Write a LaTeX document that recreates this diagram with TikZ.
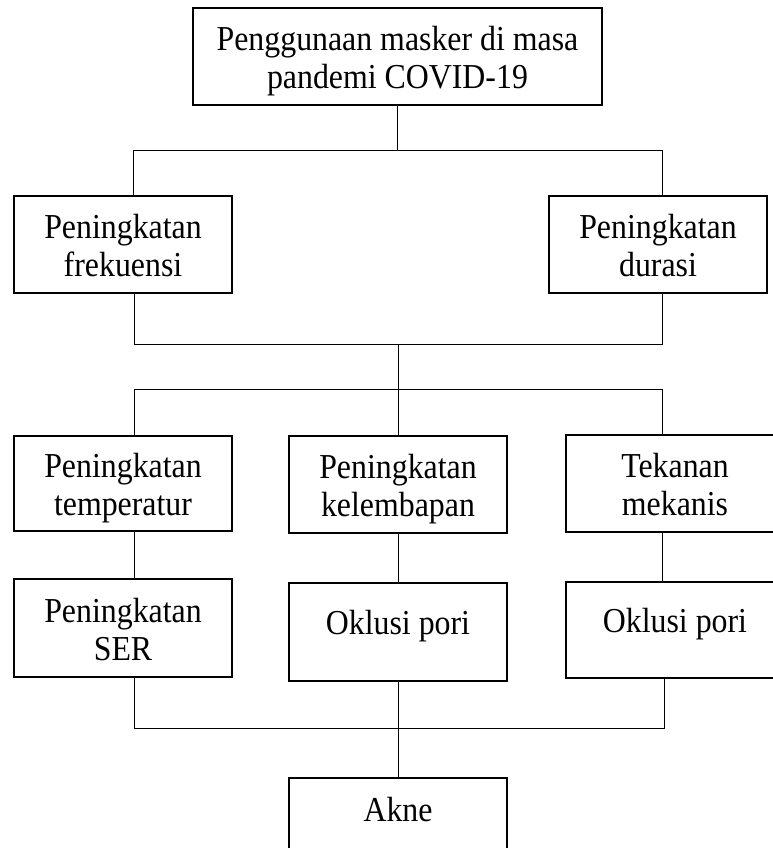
\documentclass[tikz,border=0pt]{standalone}
\usepackage{fontspec}
\newfontfamily\dfont{Liberation Serif}[FakeStretch=0.91]
\begin{document}
\begin{tikzpicture}[x=1pt,y=1pt,
  box/.style={draw, line width=2.8pt, align=center, inner sep=0pt,
    minimum width=218pt, minimum height=97pt,
    text height=66pt, text depth=2pt,
    font=\dfont\fontsize{35}{38}\selectfont},
  onebox/.style={box, text height=22pt, text depth=18pt},
  conn/.style={line width=1pt}]
\useasboundingbox (0,0) rectangle (773,-848);

% boxes
\node[box, minimum width=409pt] (top) at (397.5,-56.5) {Penggunaan masker di masa\\pandemi COVID-19};
\node[box] (r2l) at (123,-244.5) {Peningkatan\\frekuensi};
\node[box] (r2r) at (658,-244.5) {Peningkatan\\durasi};
\node[box, minimum height=95pt] (r3l) at (123,-483.5) {Peningkatan\\temperatur};
\node[box] (r3m) at (398,-484.5) {Peningkatan\\kelembapan};
\node[box] (r3r) at (675,-483.5) {Tekanan\\mekanis};
\node[box, minimum height=98pt] (r4l) at (123,-628) {Peningkatan\\SER};
\node[onebox, minimum height=98pt] (r4m) at (398,-632) {Oklusi pori};
\node[onebox, minimum height=96pt] (r4r) at (675,-630) {Oklusi pori};
\node[box, minimum height=98pt, text height=22pt, text depth=34pt] (akne) at (398,-827) {Akne};

% bus coordinates
\coordinate (b1l) at (133,-150);
\coordinate (b1r) at (662,-150);
\coordinate (b2l) at (134,-344);
\coordinate (b2m) at (398,-344);
\coordinate (b2r) at (662,-344);
\coordinate (b3l) at (134,-389);
\coordinate (b3m) at (398,-389);
\coordinate (b3r) at (662,-389);
\coordinate (b4l) at (134,-728);
\coordinate (b4r) at (664,-728);

% connectors
\draw[conn] (top.south) -- (top.south |- b1l);
\draw[conn] (b1l) -- (b1r);
\draw[conn] (b1l) -- (b1l |- r2l.north);
\draw[conn] (b1r) -- (b1r |- r2r.north);

\draw[conn] (b2l |- r2l.south) -- (b2l) -- (b2r) -- (b2r |- r2r.south);
\draw[conn] (b2m) -- (b3m);
\draw[conn] (b3l) -- (b3r);
\draw[conn] (b3l) -- (b3l |- r3l.north);
\draw[conn] (b3m) -- (b3m |- r3m.north);
\draw[conn] (b3r) -- (b3r |- r3r.north);

\draw[conn] (b3l |- r3l.south) -- (b3l |- r4l.north);
\draw[conn] (r3m.south) -- (r4m.north);
\draw[conn] (b3r |- r3r.south) -- (b3r |- r4r.north);

\draw[conn] (b4l |- r4l.south) -- (b4l) -- (b4r) -- (b4r |- r4r.south);
\draw[conn] (r4m.south) -- (akne.north);
\end{tikzpicture}
\end{document}
